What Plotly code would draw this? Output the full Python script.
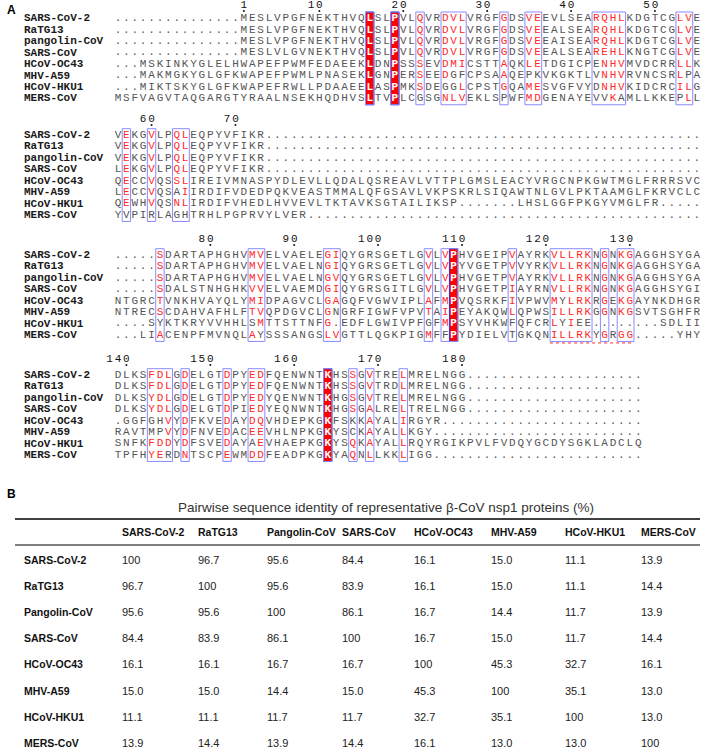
import plotly.graph_objects as go

# ---------------- data ----------------
names = ["SARS-CoV-2", "RaTG13", "pangolin-CoV", "SARS-CoV",
         "HCoV-OC43", "MHV-A59", "HCoV-HKU1", "MERS-CoV"]

block1 = [
    "...............MESLVPGFNEKTHVQLSLPVLQVRDVLVRGFGDSVEEVLSEARQHLKDGTCGLVE",
    "...............MESLVPGFNEKTHVQLSLPVLQVRDVLVRGFGDSVEEALSEARQHLKDGTCGLVE",
    "...............MESLVPGFNEKTHVQLSLPVLQVRDVLVRGFGDSVEEAISEARQHLKDGTCGLVE",
    "...............MESLVLGVNEKTHVQLSLPVLQVRDVLVRGFGDSVEEALSEAREHLKNGTCGLVE",
    "...MSKINKYGLELHWAPEFPWMFEDAEEKLDNPSSSEVDMICSTTAQKLETDGICPENHVMVDCRRLLK",
    "...MAKMGKYGLGFKWAPEFPWMLPNASEKLGNPERSEEDGFCPSAAQEPKVKGKTLVNHVRVNCSRLPA",
    "...MIKTSKYGLGFKWAPEFRWLLPDAAEELASPMKSDEGGLCPSTGQAMESVGFVYDNHVKIDCRCILG",
    "MSFVAGVTAQGARGTYRAALNSEKHQDHVSLTVPLCGSGNLVEKLSPWFMDGENAYEVVKAMLLKKEPLL",
]
block2 = [
    "VEKGVLPQLEQPYVFIKR....................................................",
    "VEKGVLPQLEQPYVFIKR....................................................",
    "VEKGVLPQLEQPYVFIKR....................................................",
    "LEKGVLPQLEQPYVFIKR....................................................",
    "QECCVQSSLIREIVMNASPYDLEVLLQDALQSREAVLVTTPLGMSLEACYVRGCNPKGWTMGLFRRRSVC",
    "LECCVQSAIIRDIFVDEDPQKVEASTMMALQFGSAVLVKPSKRLSIQAWTNLGVLPKTAAMGLFKRVCLC",
    "QEWHVQSNLIRDIFVHEDLHVVEVLTKTAVKSGTAILIKSP.......LHSLGGFPKGYVMGLFR.....",
    "YVPIRLAGHTRHLPGPRVYLVER...............................................",
]
block3 = [
    ".....SDARTAPHGHVMVELVAELEGIQYGRSGETLGVLVPHVGEIPVAYRKVLLRKNGNKGAGGHSYGA",
    ".....SDARTAPHGHVMVELVAELNGIQYGRSGETLGVLVPYVGETPVVYRKVLLRKNGNKGAGGHSYGA",
    ".....SDARTAPHGHVMVELVAELNGVQYGRSGETLGVLVPHVGETPVAYRKVLLRKNGNKGAGGHSYGA",
    ".....SDALSTNHGHKVVELVAEMDGIQYGRSGITLGVLVPHVGETPIAYRNVLLRKNGNKGAGGHSYGI",
    "NTGRCTVNKHVAYQLYMIDPAGVCLGAGQFVGWVIPLAFMPVQSRKFIVPWVMYLRKRGEKGAYNKDHGR",
    "NTRECSCDAHVAFHLFTVQPDGVCLGNGRFIGWFVPVTAIPEYAKQWLQPWSILLRKGGNKGSVTSGHFR",
    "....SYKTKRYVVHHLSMTTSTTNFG.EDFLGWIVPFGFMPSYVHKWFQFCRLYIEE........SDLII",
    "...LIACENPFMVNQLAYSSSANGSLVGTTLQGKPIGMFFPYDIELVTGKQNILLRKYGRGG.....YHY",
]
block4 = [
    "DLKSFDLGDELGTDPYEDFQENWNTKHSSGVTRELMRELNGG.....................",
    "DLKSFDLGDELGTDPYEDFQENWNTKHSSGVTRDLMRELNGG.....................",
    "DLKSYDLGDELGTDPYEDYQENWNTKHGSGVTRELMRELNGG.....................",
    "DLKSYDLGDELGTDPIEDYEQNWNTKHGSGALRELTRELNGG.....................",
    ".GGFGHVYDFKVEDAYDQVHDEPKGKFSKKAYALIRGYR........................",
    "RAVTMPVYDFNVEDACEEVHLNPKGKYSCKAYALLKGY.........................",
    "SNFKFDDYDFSVEDAYAEVHAEPKGKYSQKAYALLRQYRGIKPVLFVDQYGCDYSGKLADCLQ",
    "TPFHYERDNTSCPEWMDDFEADPKGKYAQNLLKKLIGG.........................",
]
blocks = [block1, block2, block3, block4]

# boxed (similar) column ranges and strictly conserved columns per block (1-based)
boxed = [
    [(31, 31), (34, 34), (37, 37), (40, 42), (47, 47), (50, 51), (58, 61), (68, 69)],
    [(2, 2), (5, 5), (8, 9)],
    [(6, 6), (17, 18), (26, 27), (38, 38), (40, 41), (48, 48), (53, 57), (59, 59), (61, 62)],
    [(5, 7), (9, 9), (14, 14), (17, 18), (26, 26), (29, 29), (31, 31), (35, 35)],
]
strict = [[31, 34], [], [41], [26]]
groups = ["ILVM", "FYW", "KRH", "DENQ", "STAG", "P", "C"]
extra_red = {(0, 37): "S", (1, 8): "SN", (2, 17): "TA", (2, 26): "L", (2, 27): "A",
             (2, 38): "AT", (2, 61): "G", (3, 7): "D", (3, 29): "Q", (3, 31): "A"}
underline = (2, 7, 53, 62)  # block, row, col from, col to (dashed red)

# table
tbl_names = ["SARS-CoV-2", "RaTG13", "Pangolin-CoV", "SARS-CoV",
             "HCoV-OC43", "MHV-A59", "HCoV-HKU1", "MERS-CoV"]
identity = [
    [100, 96.7, 95.6, 84.4, 16.1, 15.0, 11.1, 13.9],
    [96.7, 100, 95.6, 83.9, 16.1, 15.0, 11.1, 14.4],
    [95.6, 95.6, 100, 86.1, 16.7, 14.4, 11.7, 13.9],
    [84.4, 83.9, 86.1, 100, 16.7, 15.0, 11.7, 14.4],
    [16.1, 16.1, 16.7, 16.7, 100, 45.3, 32.7, 16.1],
    [15.0, 15.0, 14.4, 15.0, 45.3, 100, 35.1, 13.0],
    [11.1, 11.1, 11.7, 11.7, 32.7, 35.1, 100, 13.0],
    [13.9, 14.4, 13.9, 14.4, 16.1, 13.0, 13.0, 100],
]
table_title = "Pairwise sequence identity of representative β-CoV nsp1 proteins (%)"

# ---------------- geometry (pixel space) ----------------
W, H = 714, 751
X0, CW = 118.0, 8.39
TOPS = [18.3, 135.0, 255.0, 375.0]
PITCH = 11.45
NAME_X = 22
BOX = "#8a8aff"
GRAY = "#555555"
RED = "#ff2a2a"
MONO = "Liberation Mono"
SANS = "Liberation Sans, Arial"


def cx(c):
    return X0 + (c - 1) * CW


def ry(b, r):
    return TOPS[b] + r * PITCH


def group_of(ch):
    for g in groups:
        if ch in g:
            return g
    return ch


fig = go.Figure()
shapes = []
annotations = []

gx, gy, gt = [], [], []
rx, ryy, rt = [], [], []
wx, wy, wt = [], [], []
numx, numy, numt = [], [], []
dotx, doty = [], []

residue = 0
for b, blk in enumerate(blocks):
    boxcols = {}
    for (c0, c1) in boxed[b]:
        for c in range(c0, c1 + 1):
            boxcols[c] = True
    ytop = ry(b, 0) - 6.3
    ybot = ry(b, 7) + 6.3
    for c in strict[b]:
        shapes.append(dict(type="rect", xref="x", yref="y", x0=cx(c) - CW / 2, x1=cx(c) + CW / 2,
                           y0=ytop, y1=ybot, fillcolor="#ff0000", line=dict(color="#3030c0", width=1),
                           layer="below"))
    for (c0, c1) in boxed[b]:
        shapes.append(dict(type="rect", xref="x", yref="y", x0=cx(c0) - CW / 2, x1=cx(c1) + CW / 2,
                           y0=ytop, y1=ybot, fillcolor="rgba(0,0,0,0)", line=dict(color=BOX, width=1),
                           layer="above"))
    num_y = max(ry(b, 0) - 15.5, 5.5)
    for ci, ch in enumerate(blk[0]):
        c = ci + 1
        if ch != ".":
            residue += 1
            if residue == 1 or residue % 10 == 0:
                s = str(residue)
                for k, d in enumerate(s):
                    numx.append(cx(c - len(s) + 1 + k))
                    numy.append(num_y)
                    numt.append(d)
                dotx.append(cx(c))
                doty.append(num_y + 5.5)
    for r, seq in enumerate(blk):
        y = ry(b, r)
        annotations.append(dict(x=NAME_X, y=y, xref="x", yref="y", text="<b>%s</b>" % names[r],
                                showarrow=False, xanchor="left", yanchor="middle",
                                font=dict(family=MONO, size=11, color="#1a1a1a")))
        for ci, ch in enumerate(seq):
            c = ci + 1
            if c in strict[b]:
                wx.append(cx(c)); wy.append(y); wt.append(ch)
            elif c in boxcols and ch != "." and (ch in group_of(blk[0][ci]) or ch in extra_red.get((b, c), "")):
                rx.append(cx(c)); ryy.append(y); rt.append(ch)
            else:
                gx.append(cx(c)); gy.append(y); gt.append(ch)

ub, ur, uc0, uc1 = underline
shapes.append(dict(type="line", xref="x", yref="y", x0=cx(uc0) - CW / 2, x1=cx(uc1) + CW / 2,
                   y0=ry(ub, ur) + 7.8, y1=ry(ub, ur) + 7.8, line=dict(color=RED, width=1, dash="dot")))

for xs, ys, ts, col in [(gx, gy, gt, GRAY), (rx, ryy, rt, RED),
                        (wx, wy, wt, "#ffffff"), (numx, numy, numt, "#111111")]:
    fig.add_trace(go.Scatter(x=xs, y=ys, text=ts, mode="text", textposition="middle center",
                             textfont=dict(family=MONO, size=11, color=col,
                                           weight="bold" if col == "#ffffff" else "normal"),
                             hoverinfo="skip"))
fig.add_trace(go.Scatter(x=dotx, y=doty, mode="markers", marker=dict(size=2, color="#111111"),
                         hoverinfo="skip"))

annotations.append(dict(x=5, y=10, xref="x", yref="y", text="<b>A</b>", showarrow=False,
                        xanchor="left", yanchor="middle", font=dict(family=SANS, size=12, color="#000")))
annotations.append(dict(x=5, y=494, xref="x", yref="y", text="<b>B</b>", showarrow=False,
                        xanchor="left", yanchor="middle", font=dict(family=SANS, size=12, color="#000")))

# ---------------- table ----------------
COLX = [120, 196, 265, 340, 412, 489, 563, 639]
TITLE_Y, RULE1, HEAD_Y, RULE2, ROW0, ROWSTEP = 507, 519, 532, 545, 560, 26.1
annotations.append(dict(x=386, y=TITLE_Y, xref="x", yref="y", text=table_title, showarrow=False,
                        xanchor="center", yanchor="middle", font=dict(family=SANS, size=13.5, color="#333")))
shapes.append(dict(type="line", xref="x", yref="y", x0=15, x1=700, y0=RULE1, y1=RULE1,
                   line=dict(color="#000", width=1.5)))
shapes.append(dict(type="line", xref="x", yref="y", x0=15, x1=700, y0=RULE2, y1=RULE2,
                   line=dict(color="#000", width=1)))
for j, nm in enumerate(tbl_names):
    annotations.append(dict(x=COLX[j], y=HEAD_Y, xref="x", yref="y", text="<b>%s</b>" % nm,
                            showarrow=False, xanchor="left", yanchor="middle",
                            font=dict(family=SANS, size=10.5, color="#111")))
for i, nm in enumerate(tbl_names):
    y = ROW0 + i * ROWSTEP
    annotations.append(dict(x=22, y=y, xref="x", yref="y", text="<b>%s</b>" % nm,
                            showarrow=False, xanchor="left", yanchor="middle",
                            font=dict(family=SANS, size=10.5, color="#111")))
    for j, v in enumerate(identity[i]):
        s = "100" if v == 100 else "%.1f" % v
        annotations.append(dict(x=COLX[j], y=y, xref="x", yref="y", text=s,
                                showarrow=False, xanchor="left", yanchor="middle",
                                font=dict(family=SANS, size=11, color="#222")))

fig.update_layout(
    width=W, height=H, margin=dict(l=0, r=0, t=0, b=0),
    paper_bgcolor="white", plot_bgcolor="white", showlegend=False,
    xaxis=dict(range=[0, W], visible=False, fixedrange=True),
    yaxis=dict(range=[H, 0], visible=False, fixedrange=True),
    shapes=shapes, annotations=annotations,
)
fig.write_html("out.html", config={"displayModeBar": False},
               post_script="document.body.style.margin='0px';document.body.style.overflow='hidden';")
